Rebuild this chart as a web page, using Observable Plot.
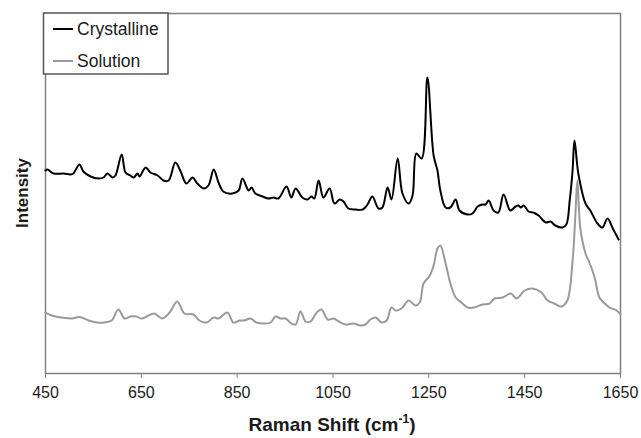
<!DOCTYPE html>
<html>
<head>
<meta charset="utf-8">
<script src="https://cdn.jsdelivr.net/npm/d3@7"></script>
<script src="https://cdn.jsdelivr.net/npm/@observablehq/plot@0.6"></script>
<style>
  html, body { margin: 0; padding: 0; background: white; }
  #chart { width: 641px; height: 438px; }
</style>
</head>
<body>
<div id="chart"></div>
<script>
// Series names
const seriesNames = ["Crystalline", "Solution"];

// Crystalline spectrum (Raman shift, cm-1) and intensity (arbitrary units)
const crystX = [450,454,467,488,502,508,521,529,544,561,571,579,590,596,609,617,627,634,642,646,659,669,684,696,707,721,732,744,757,767,780,790,801,811,821,840,853,861,874,880,888,903,915,926,936,953,963,972,986,997,1005,1011,1020,1030,1043,1053,1064,1072,1082,1097,1112,1122,1132,1145,1153,1164,1172,1185,1195,1208,1216,1224,1235,1247,1260,1268,1274,1285,1295,1306,1314,1331,1341,1352,1362,1368,1375,1385,1395,1406,1420,1431,1437,1442,1448,1458,1468,1479,1494,1504,1514,1529,1537,1544,1550,1554,1562,1577,1587,1602,1612,1623,1633,1646];
const crystY = [203,204,200,200,199,200,209,202,197,195,196,200,196,198,219,201,198,196,200,197,206,201,198,193,193,211,202,190,196,190,185,188,204,191,182,180,183,195,183,186,180,177,175,176,175,187,176,185,176,174,177,175,193,176,185,170,174,172,165,164,164,169,177,165,166,186,174,215,180,170,178,220,215,296,218,203,183,166,166,174,163,159,160,167,169,169,173,163,161,179,163,167,168,166,168,162,161,158,151,152,148,146,149,173,203,233,200,170,163,150,146,155,146,134];

// Solution spectrum
const solX = [450,463,484,505,521,540,557,573,588,602,615,627,640,650,665,677,694,709,725,740,759,771,786,801,811,830,842,855,865,878,890,905,920,930,940,951,963,972,982,993,1003,1016,1026,1039,1051,1062,1076,1093,1107,1118,1128,1139,1151,1162,1172,1181,1193,1208,1222,1231,1239,1252,1260,1268,1274,1285,1295,1306,1318,1331,1345,1362,1377,1387,1404,1421,1433,1450,1466,1485,1498,1512,1527,1539,1550,1556,1560,1566,1577,1585,1596,1606,1617,1627,1642,1650];
const solY = [61,58,56,55,56.5,53,51,51,53,64,55,57,57,55,58,60,55,61,72,60,59,53,51,56,55,61,51,53,53,55,51,50,51,57,55,55,50,49,62,52,52,61,64,54,55,52,49,50,48,49,54,56,51,53,66,63,65,73,68,71,90,98,108,125,128,110,90,76,71,66,66,69,70,75,76,80,75,83,85,81,73,70,67,73,113,160,193,146,120,111,96,76,70,66,63,59];

// Axis ticks
const xTicks = [450, 650, 850, 1050, 1250, 1450, 1650];
const xLabel = "Raman Shift (cm";
const xLabelSup = "-1";
const yLabel = "Intensity";

const crystalline = crystX.map((x, i) => ({x, y: crystY[i]}));
const solution = solX.map((x, i) => ({x, y: solY[i]}));

const font = "'Liberation Sans', Arial, sans-serif";

const plot = Plot.plot({
  width: 641,
  height: 438,
  marginLeft: 45,
  marginRight: 21,
  marginTop: 13,
  marginBottom: 65,
  style: {fontFamily: font, fontSize: "16px", color: "#1a1a1a", background: "white", overflow: "visible"},
  x: {domain: [450, 1650]},
  y: {domain: [0, 360], axis: null},
  marks: [
    Plot.frame({stroke: "#808080", strokeWidth: 1.5}),
    Plot.line(solution, {x: "x", y: "y", stroke: "#9a9a9a", strokeWidth: 2, curve: "catmull-rom"}),
    Plot.line(crystalline, {x: "x", y: "y", stroke: "#000", strokeWidth: 2, curve: "catmull-rom"}),
    Plot.axisX({ticks: xTicks, tickSize: 5, tickPadding: 8, tickFormat: d => String(d), label: null, stroke: "#808080", fill: "#1a1a1a", fontSize: 16})
  ]
});

document.getElementById("chart").appendChild(plot);

const svg = d3.select(plot);
// X axis title with superscript
const xt = svg.append("text")
  .attr("x", 332).attr("y", 431)
  .attr("text-anchor", "middle")
  .attr("font-family", font).attr("font-size", 19).attr("font-weight", "bold")
  .attr("fill", "#1a1a1a");
xt.append("tspan").text(xLabel);
xt.append("tspan").attr("font-size", 12).attr("dy", -8).text(xLabelSup);
xt.append("tspan").attr("dy", 8).text(")");

// Y axis title
svg.append("text")
  .attr("transform", "translate(28,193) rotate(-90)")
  .attr("text-anchor", "middle")
  .attr("font-family", font).attr("font-size", 17).attr("font-weight", "bold")
  .attr("fill", "#1a1a1a")
  .text(yLabel);

// Legend
const lg = svg.append("g");
lg.append("rect").attr("x", 43.5).attr("y", 13).attr("width", 124.5).attr("height", 61)
  .attr("fill", "white").attr("stroke", "#555").attr("stroke-width", 1.5);
const legendColors = ["#000", "#9a9a9a"];
const legendYs = [29, 61];
seriesNames.forEach((name, i) => {
  lg.append("line").attr("x1", 53).attr("x2", 73).attr("y1", legendYs[i]).attr("y2", legendYs[i])
    .attr("stroke", legendColors[i]).attr("stroke-width", 2);
  lg.append("text").attr("x", 77).attr("y", legendYs[i] + 6)
    .attr("text-anchor", "start")
    .attr("font-family", font).attr("font-size", 17.5).attr("fill", "#1a1a1a").text(name);
});
</script>
</body>
</html>
